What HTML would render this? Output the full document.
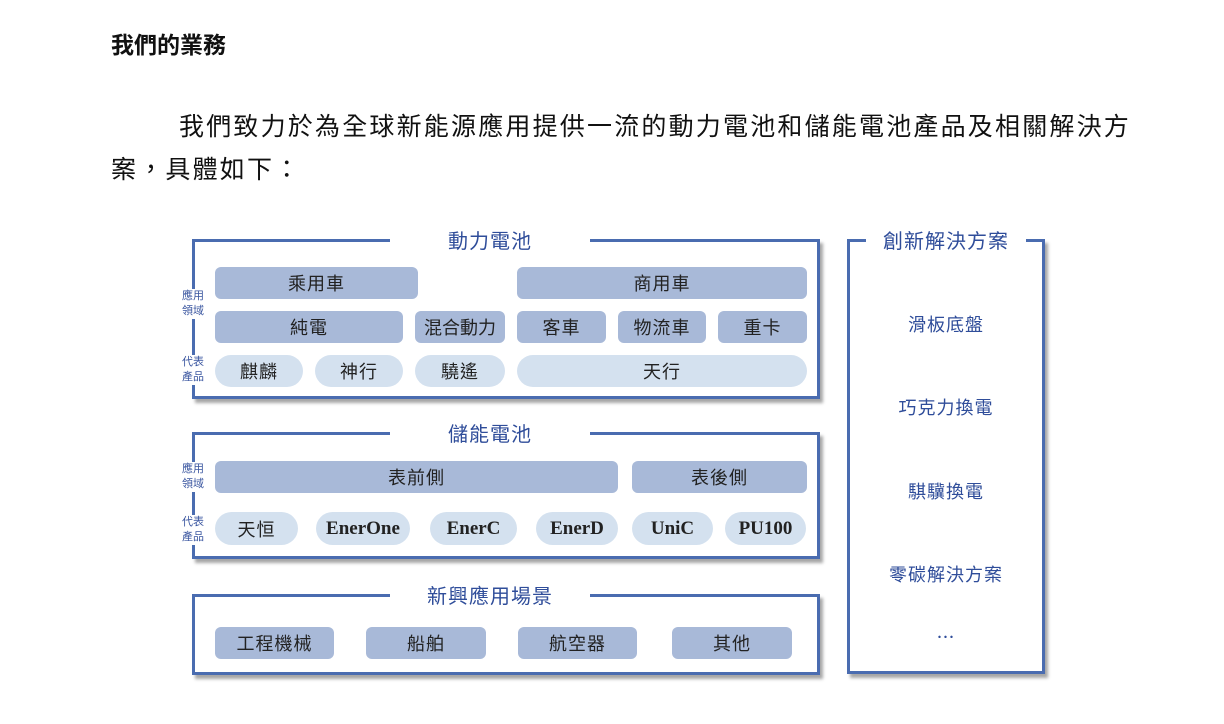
<!DOCTYPE html><html><head><meta charset="utf-8"><style>
body{margin:0;width:1224px;height:724px;background:#fff;position:relative;overflow:hidden;font-family:"Liberation Sans","Noto Sans CJK TC",sans-serif;}
.a{position:absolute}
.box{position:absolute;border:3px solid #4a6cb0;box-shadow:3px 4px 3px rgba(0,0,0,0.35);box-sizing:border-box}
.tt{position:absolute;background:#fff;color:#2f4d9a;font-size:20px;text-align:center;line-height:24px;font-family:"Noto Sans CJK TC",sans-serif;letter-spacing:1px}
.p{position:absolute;border-radius:6px;background:#a8b9d8;color:#222;font-size:18px;display:flex;align-items:center;justify-content:center;font-family:"Noto Sans CJK TC",sans-serif;letter-spacing:1px}
.l{background:#d4e1ef;border-radius:17px}
.e{font-family:"Liberation Serif",serif;font-weight:bold;font-size:19px;letter-spacing:0}
.sl{position:absolute;background:#fff;color:#3a56a0;font-size:11px;line-height:15px;width:26px;text-align:center;left:180px}
.ri{position:absolute;left:848px;width:196px;text-align:center;color:#2f4d9a;font-size:18px;font-family:"Noto Sans CJK TC",sans-serif;letter-spacing:1px}
.par{position:absolute;font-size:25px;color:#111;letter-spacing:2.2px;font-family:"Noto Sans CJK TC",sans-serif;line-height:30px;white-space:nowrap}
</style></head><body>
<div class="a" style="left:111px;top:26px;font-size:23px;font-weight:bold;color:#111;font-family:'Noto Sans CJK TC',sans-serif">我們的業務</div>
<div class="par" style="left:179px;top:110px">我們致力於為全球新能源應用提供一流的動力電池和儲能電池產品及相關解決方</div>
<div class="par" style="left:111px;top:153px">案，具體如下：</div>

<div class="box" style="left:192px;top:239px;width:628px;height:160px"></div>
<div class="tt" style="left:390px;top:228px;width:200px">動力電池</div>
<div class="sl" style="top:289px">應用<br>領域</div>
<div class="sl" style="top:355px">代表<br>產品</div>
<div class="p" style="left:215px;top:267px;width:203px;height:32px">乘用車</div>
<div class="p" style="left:517px;top:267px;width:290px;height:32px">商用車</div>
<div class="p" style="left:215px;top:311px;width:188px;height:32px">純電</div>
<div class="p" style="left:415px;top:311px;width:90px;height:32px;letter-spacing:0">混合動力</div>
<div class="p" style="left:517px;top:311px;width:89px;height:32px">客車</div>
<div class="p" style="left:618px;top:311px;width:88px;height:32px">物流車</div>
<div class="p" style="left:718px;top:311px;width:89px;height:32px">重卡</div>
<div class="p l" style="left:215px;top:355px;width:88px;height:32px">麒麟</div>
<div class="p l" style="left:315px;top:355px;width:88px;height:32px">神行</div>
<div class="p l" style="left:415px;top:355px;width:90px;height:32px">驍遙</div>
<div class="p l" style="left:517px;top:355px;width:290px;height:32px">天行</div>

<div class="box" style="left:192px;top:432px;width:628px;height:127px"></div>
<div class="tt" style="left:390px;top:421px;width:200px">儲能電池</div>
<div class="sl" style="top:462px">應用<br>領域</div>
<div class="sl" style="top:515px">代表<br>產品</div>
<div class="p" style="left:215px;top:461px;width:403px;height:32px">表前側</div>
<div class="p" style="left:632px;top:461px;width:175px;height:32px">表後側</div>
<div class="p l" style="left:215px;top:512px;width:83px;height:33px">天恒</div>
<div class="p l e" style="left:316px;top:512px;width:94px;height:33px">EnerOne</div>
<div class="p l e" style="left:430px;top:512px;width:87px;height:33px">EnerC</div>
<div class="p l e" style="left:536px;top:512px;width:82px;height:33px">EnerD</div>
<div class="p l e" style="left:632px;top:512px;width:81px;height:33px">UniC</div>
<div class="p l e" style="left:725px;top:512px;width:81px;height:33px">PU100</div>

<div class="box" style="left:192px;top:594px;width:628px;height:81px"></div>
<div class="tt" style="left:390px;top:583px;width:200px">新興應用場景</div>
<div class="p" style="left:215px;top:627px;width:119px;height:32px">工程機械</div>
<div class="p" style="left:366px;top:627px;width:120px;height:32px">船舶</div>
<div class="p" style="left:518px;top:627px;width:119px;height:32px">航空器</div>
<div class="p" style="left:672px;top:627px;width:120px;height:32px">其他</div>

<div class="box" style="left:847px;top:239px;width:198px;height:435px"></div>
<div class="tt" style="left:866px;top:228px;width:160px">創新解決方案</div>
<div class="ri" style="top:311px">滑板底盤</div>
<div class="ri" style="top:394px">巧克力換電</div>
<div class="ri" style="top:478px">騏驥換電</div>
<div class="ri" style="top:561px">零碳解決方案</div>
<div class="ri" style="top:624px">…</div>
</body></html>
